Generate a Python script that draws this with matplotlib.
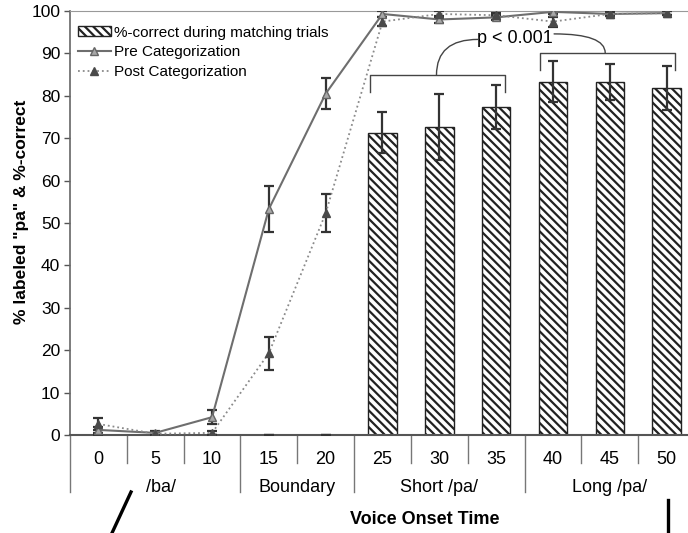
import numpy as np
import matplotlib
matplotlib.use("Agg")
import matplotlib.pyplot as plt
from matplotlib.lines import Line2D
from matplotlib.patches import Patch

plt.rcParams['font.family'] = ['Liberation Sans', 'DejaVu Sans']
plt.rcParams['hatch.linewidth'] = 1.6

# data
vot = ["0", "5", "10", "15", "20", "25", "30", "35", "40", "45", "50"]
groups = ["/ba/", "Boundary", "Short /pa/", "Long /pa/"]
group_span = [(0, 2), (3, 4), (5, 7), (8, 10)]

pre = [1.2, 0.5, 4.2, 53.3, 80.5, 99.3, 98.0, 98.5, 99.8, 99.3, 99.5]
pre_err = [0.8, 0.5, 1.6, 5.5, 3.7, 0.6, 0.8, 0.6, 0.6, 0.5, 0.5]
post = [2.6, 0.3, 0.5, 19.3, 52.3, 97.5, 99.3, 99.0, 97.5, 99.3, 99.5]
post_err = [1.5, 0.3, 0.5, 3.9, 4.5, 1.0, 0.6, 0.5, 1.2, 0.5, 0.5]

correct = [0, 0, 0, 0, 0, 71.3, 72.7, 77.3, 83.3, 83.3, 81.8]
correct_err = [0, 0, 0, 0, 0, 4.8, 7.8, 5.2, 4.8, 4.2, 5.2]

x = np.arange(len(vot))
correct = np.array(correct)
correct_err = np.array(correct_err)

fig = plt.figure(figsize=(6.88, 5.33), dpi=100)
ax = fig.add_axes([70/688, 98/533, 625/688, 424/533])

# bars (only where there is data), with error bars
has = correct > 0
ax.bar(x[has], correct[has], width=0.5, color="white", edgecolor="#222222",
       hatch="\\\\\\\\", linewidth=1.0, zorder=2)
ax.errorbar(x, correct, yerr=correct_err, fmt="none", ecolor="#333333",
            elinewidth=1.6, capsize=3.5, capthick=1.6, zorder=3)

# identification curves
ax.errorbar(x, pre, yerr=pre_err, color="#6e6e6e", lw=1.5, marker="^",
            ms=6, mfc="#a8a8a8", mec="#666666", ecolor="#333333",
            elinewidth=1.6, capsize=3.5, capthick=1.6, zorder=4)
ax.errorbar(x, post, yerr=post_err, color="#8a8a8a", lw=1.3, ls=":",
            marker="^", ms=6, mfc="#4a4a4a", mec="#4a4a4a", ecolor="#333333",
            elinewidth=1.6, capsize=3.5, capthick=1.6, zorder=4)

ax.set_xlim(-0.5, 10.5)
ax.set_ylim(0, 100)
ax.set_yticks(np.arange(0, 101, 10))
ax.tick_params(axis="y", direction="out", length=4, width=1, color="#555555",
               labelsize=12.5, pad=3)
ax.set_xticks([])
ax.spines["right"].set_visible(False)
ax.spines["top"].set_color("#999999")
ax.spines["left"].set_color("#666666")
ax.spines["bottom"].set_color("#555555")
ax.spines["left"].set_linewidth(1.2)
ax.spines["bottom"].set_linewidth(1.5)

# category axis below the plot
tr = ax.get_xaxis_transform()
px = 1 / 424
for i in range(len(vot)):
    ax.text(x[i], -24 * px, vot[i], transform=tr, ha="center", va="center",
            fontsize=13)
long_sep = [a - 0.5 for a, b in group_span]
for i in range(len(vot) - 1):
    sx = i + 0.5
    depth = 57 if sx in long_sep else 28
    ax.plot([sx, sx], [0, -depth * px], transform=tr, color="#777777",
            lw=1, clip_on=False)
ax.plot([-0.5, -0.5], [0, -57 * px], transform=tr, color="#777777", lw=1,
        clip_on=False)
for g, (a, b) in zip(groups, group_span):
    ax.text((a + b) / 2 + (0.1 if g == "/ba/" else 0), -53 * px, g,
            transform=tr, ha="center", va="center", fontsize=13)

fig.text(425/688, 1 - 519/533, "Voice Onset Time", ha="center", va="center",
         fontsize=13, fontweight="bold")
fig.text(22/688, 1 - 212/533, '% labeled "pa" & %-correct', rotation=90,
         ha="center", va="center", fontsize=12.5, fontweight="bold")

# significance brackets
left = (5, 7)
right = (8, 10)
yl = max(correct[5:8] + correct_err[5:8]) + 2.4
yr = max(correct[8:11] + correct_err[8:11]) + 2.0
for (a, b), yb in [(left, yl), (right, yr)]:
    ax.plot([a - 0.22, a - 0.22, b + 0.15, b + 0.15],
            [yb - 4.0, yb, yb, yb - 4.0], color="#444444", lw=1.0, zorder=5)
ax.text(7.33, 93.6, "p < 0.001", ha="center", va="center", fontsize=13)
ax.annotate("", xy=(5.95, yl), xytext=(6.68, 93.3),
            arrowprops=dict(arrowstyle="-", color="#444444", lw=1.0,
                            shrinkA=0, shrinkB=0,
                            connectionstyle="angle3,angleA=0,angleB=90"))
ax.annotate("", xy=(8.92, yr), xytext=(8.02, 94.6),
            arrowprops=dict(arrowstyle="-", color="#444444", lw=1.0,
                            shrinkA=0, shrinkB=0,
                            connectionstyle="angle3,angleA=0,angleB=90"))

# legend
handles = [Patch(facecolor="white", edgecolor="#222222", hatch="\\\\\\\\"),
           Line2D([], [], color="#6e6e6e", lw=1.5, marker="^", ms=6,
                  mfc="#a8a8a8", mec="#666666"),
           Line2D([], [], color="#8a8a8a", lw=1.3, ls=":", marker="^", ms=6,
                  mfc="#4a4a4a", mec="#4a4a4a")]
labels = ["%-correct during matching trials", "Pre Categorization",
          "Post Categorization"]
ax.legend(handles, labels, loc="upper left", bbox_to_anchor=(76/688, 1 - 24/533),
          bbox_transform=fig.transFigure, frameon=False, fontsize=11,
          handlelength=2.2, handleheight=0.6, handletextpad=0.2,
          labelspacing=0.38, borderpad=0.1, borderaxespad=0)

# stray marks along the bottom of the reference image
fig.add_artist(Line2D([131/688, 112/688], [1 - 492/533, 0], color="black",
                      lw=2.4, transform=fig.transFigure))
fig.add_artist(Line2D([668/688, 668/688], [1 - 500/533, 0], color="black",
                      lw=2.4, transform=fig.transFigure))

fig.savefig("out.png", dpi=100)
